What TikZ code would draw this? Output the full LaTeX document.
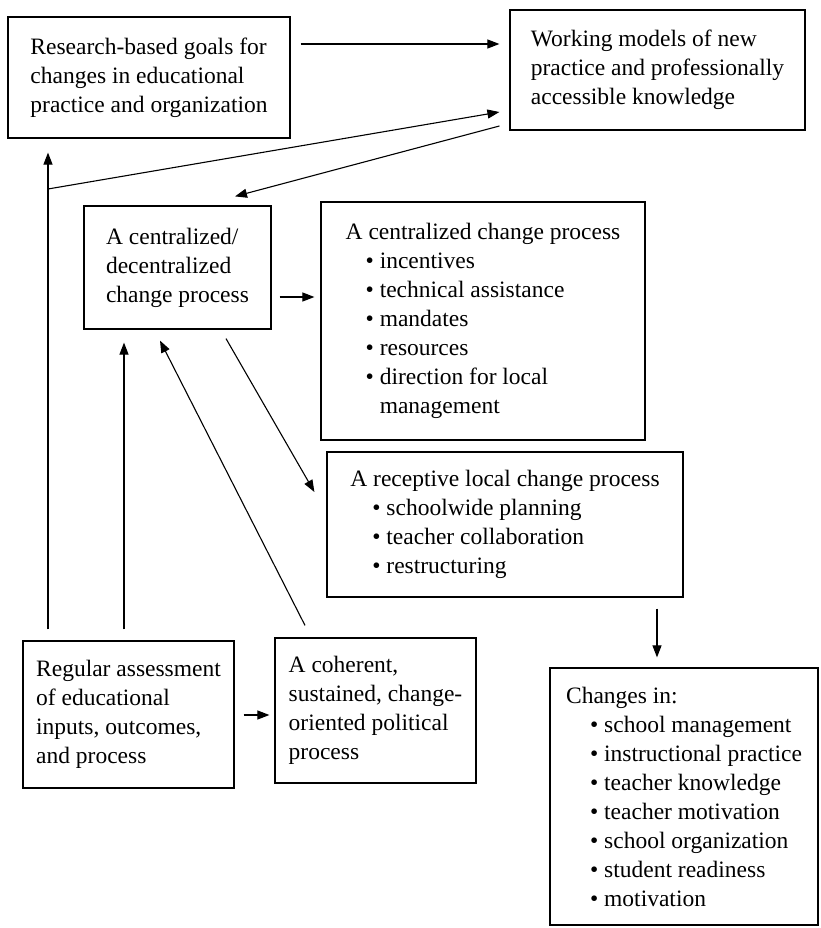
\documentclass[tikz,border=0pt]{standalone}
\usepackage{fontspec}
\setmainfont{Liberation Serif}
\usetikzlibrary{arrows.meta,calc}
\newcommand\bitem[2][20pt]{\hspace*{#1}\textbullet\ #2}
\newcommand\bcont[2][20pt]{\hspace*{#1}\phantom{\textbullet\ }#2}
\begin{document}
\begin{tikzpicture}[x=1pt,y=-1pt,
  box/.style={draw, line width=1.2pt, rectangle, align=left, inner xsep=8pt, inner ysep=3pt,
    font=\fontsize{23.5}{29}\selectfont},
  arr/.style={line width=1.1pt, -{Triangle[length=12pt,width=9pt]}}]
\useasboundingbox (0,0) rectangle (821,928);

\node[box, minimum width=282pt, minimum height=121pt] (b1) at (149,77.5)
  {Research-based goals for\\changes in educational\\practice and organization};
\node[box, minimum width=295pt, minimum height=120pt] (b2) at (657.5,70)
  {Working models of new\\practice and professionally\\accessible knowledge};
\node[box, minimum width=187pt, minimum height=123pt] (b3) at (177.5,267.5)
  {A centralized/\\decentralized\\change process};
\node[box, minimum width=324pt, minimum height=238pt] (b4) at (483,321)
  {A centralized change process\\
   \bitem{incentives}\\
   \bitem{technical assistance}\\
   \bitem{mandates}\\
   \bitem{resources}\\
   \bitem{direction for local}\\
   \bcont{management}};
\node[box, minimum width=356pt, minimum height=145pt] (b5) at (505,524.5)
  {A receptive local change process\\
   \bitem[22pt]{schoolwide planning}\\
   \bitem[22pt]{teacher collaboration}\\
   \bitem[22pt]{restructuring}};
\node[box, minimum width=201pt, minimum height=145pt] (b6) at (375.5,710.5)
  {A coherent,\\sustained, change-\\oriented political\\process};
\node[box, minimum width=211pt, minimum height=147pt] (b7) at (128.5,714.5)
  {Regular assessment\\of educational\\inputs, outcomes,\\and process};
\node[box, minimum width=268pt, minimum height=257pt] (b8) at (684,796.5)
  {Changes in:\\
   \bitem[24pt]{school management}\\
   \bitem[24pt]{instructional practice}\\
   \bitem[24pt]{teacher knowledge}\\
   \bitem[24pt]{teacher motivation}\\
   \bitem[24pt]{school organization}\\
   \bitem[24pt]{student readiness}\\
   \bitem[24pt]{motivation}};

% connectors
\draw[arr] ($(b1.east |- 0,44)+(10,0)$) -- ($(b2.west |- 0,44)+(-10,0)$);
\draw[arr] ($(b7.north -| 48,0)+(0,-11)$) -- ($(b1.south -| 48,0)+(0,14)$);
\coordinate (J) at (48,189);
\draw[arr] (J) -- ($(b2.west |- 0,112)+(-10,0)$);
\draw[arr] ($(b2.west |- 0,126)+(-10,0)$) -- ($(b3.north -| 235,0)+(0,-9)$);
\draw[arr] ($(b3.east |- 0,297)+(8,0)$) -- ($(b4.west |- 0,297)+(-6,0)$);
\draw[arr] ($(b3.south -| 226,0)+(0,9)$) -- ($(b5.west |- 0,492)+(-12,0)$);
\draw[arr] ($(b6.north -| 305,0)+(0,-12)$) -- ($(b3.south -| 160,0)+(0,11)$);
\draw[arr] ($(b7.north -| 124,0)+(0,-11)$) -- ($(b3.south -| 124,0)+(0,13)$);
\draw[arr] ($(b7.east |- 0,715)+(9,0)$) -- ($(b6.west |- 0,715)+(-5,0)$);
\draw[arr] ($(b5.south -| 657,0)+(0,11)$) -- ($(b8.north -| 657,0)+(0,-10)$);
\end{tikzpicture}
\end{document}
